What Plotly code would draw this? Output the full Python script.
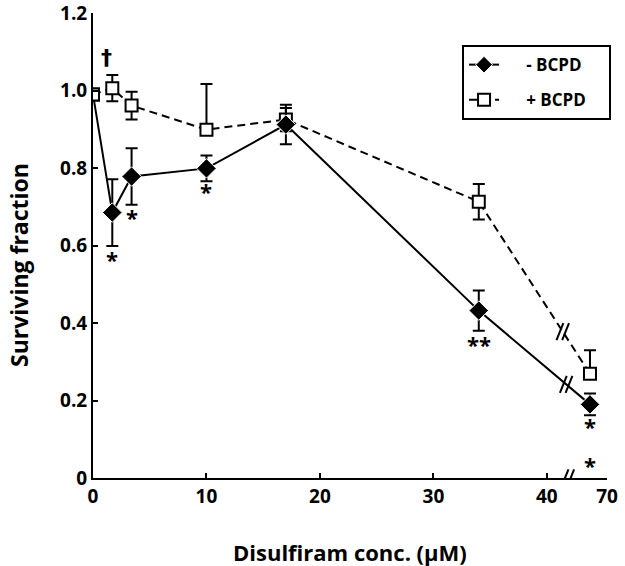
import plotly.graph_objects as go

# ---- data ----
conc_labels = ["0", "1.7", "3.4", "10", "17", "34", "70"]          # µM
x_plot = [0, 1.7, 3.4, 10, 17, 34, 43.8]                            # position on broken axis
minus_bcpd = [0.99, 0.685, 0.778, 0.799, 0.912, 0.432, 0.190]
minus_err = [0.0, 0.086, 0.073, 0.033, 0.051, 0.052, 0.028]
plus_bcpd = [0.99, 1.006, 0.961, 0.899, 0.925, 0.713, 0.269]
plus_err_up = [0.0, 0.034, 0.036, 0.118, 0.03, 0.046, 0.061]
plus_err_down = [0.0, 0.034, 0.036, 0.0, 0.03, 0.046, 0.0]

xtick_vals = [0, 10, 20, 30, 40, 45.3]
xtick_text = ["0", "10", "20", "30", "40", "70"]
ytick_vals = [0, 0.2, 0.4, 0.6, 0.8, 1.0, 1.2]
ytick_text = ["0", "0.2", "0.4", "0.6", "0.8", "1.0", "1.2"]

# significance marks: (x index, y position, text)
marks = [(1, 0.566, "*"), (2, 0.674, "*"), (3, 0.740, "*"), (5, 0.346, "**"),
         (6, 0.134, "*"), (6, 0.033, "*")]
dagger = (1, 1.085, "†")

FONT = "Open Sans"
NB = "\u00a0"

fig = go.Figure()
fig.add_trace(go.Scatter(
    x=x_plot, y=plus_bcpd, name=NB * 5 + "+ BCPD" + NB * 4, mode="lines+markers",
    legendrank=2, legendgroup="p",
    line=dict(color="black", width=2, dash="8px,5px"),
    marker=dict(symbol="square", size=12, color="white", line=dict(color="black", width=2)),
    error_y=dict(type="data", symmetric=False, array=plus_err_up, arrayminus=plus_err_down,
                 color="black", thickness=2, width=6),
))
fig.add_trace(go.Scatter(
    x=x_plot, y=minus_bcpd, name=NB * 5 + "- BCPD" + NB * 4, mode="lines+markers",
    legendrank=1, legendgroup="m",
    line=dict(color="black", width=2),
    marker=dict(symbol="diamond", size=[0, 15, 15, 15, 15, 15, 15], color="black", opacity=1),
    error_y=dict(type="data", array=minus_err, color="black", thickness=2, width=6),
))
# square at 0 on top (same data point, drawn over the diamond as in the original)
fig.add_trace(go.Scatter(
    x=x_plot[:1], y=plus_bcpd[:1], mode="markers", showlegend=False, legendgroup="p",
    marker=dict(symbol="square", size=12, color="white", line=dict(color="black", width=2)),
))

# break marks "//" on axis and on both lines (positions derived from data)
def interp(xa, ya, xb, yb, x):
    return ya + (yb - ya) * (x - xa) / (xb - xa)

def slashes(xc, yc, gap_white=True, ysz=0.022):
    shapes = []
    dx = 0.3
    if gap_white:
        shapes.append(dict(type="line", xref="x", yref="y", x0=xc - 0.22, x1=xc + 0.22,
                           y0=yc, y1=yc, line=dict(color="white", width=4)))
    for off in (-0.25, 0.25):
        shapes.append(dict(type="line", xref="x", yref="y",
                           x0=xc + off - dx, y0=yc - ysz, x1=xc + off + dx, y1=yc + ysz,
                           line=dict(color="black", width=2)))
    return shapes

shapes = []
shapes += slashes(41.85, 0.0)
yb1 = interp(x_plot[5], minus_bcpd[5], x_plot[6], minus_bcpd[6], 41.7)
shapes += slashes(41.7, yb1, gap_white=False)
yb2 = interp(x_plot[5], plus_bcpd[5], x_plot[6], plus_bcpd[6], 41.4)
shapes += slashes(41.4, yb2)

annotations = []
for i, yv, t in marks:
    annotations.append(dict(x=x_plot[i], y=yv, text="<b>" + t + "</b>", showarrow=False,
                            xref="x", yref="y",
                            font=dict(family=FONT, size=22, color="black")))
annotations.append(dict(x=1.15, y=dagger[1], text="<b>" + dagger[2] + "</b>", showarrow=False,
                        xref="x", yref="y",
                        font=dict(family="DejaVu Sans", size=22, color="black")))
annotations.append(dict(x=0.5, y=-0.159, xref="paper", yref="paper", yanchor="middle",
                        text="<b>Disulfiram conc. (μM)</b>", showarrow=False,
                        font=dict(family=FONT, size=22, color="black")))
annotations.append(dict(x=-0.144, y=0.458, xref="paper", yref="paper", textangle=-90,
                        xanchor="center", yanchor="middle",
                        text="<b>Surviving fraction</b>", showarrow=False,
                        font=dict(family=FONT, size=23, color="black")))

fig.update_layout(
    width=625, height=566,
    margin=dict(l=93, r=18, t=13, b=88, autoexpand=False),
    paper_bgcolor="white", plot_bgcolor="white",
    font=dict(family=FONT, size=19, color="black"),
    shapes=shapes, annotations=annotations,
    legend=dict(x=0.718, y=0.931, xanchor="left", yanchor="top",
                bordercolor="black", borderwidth=2, bgcolor="white",
                traceorder="grouped",
                font=dict(family=FONT, size=17, color="black", weight="bold"),
                tracegroupgap=10),
    showlegend=True,
)
fig.update_xaxes(range=[0, 45.3], tickvals=xtick_vals, ticktext=xtick_text,
                 showgrid=False, zeroline=False, showline=True, linecolor="black", linewidth=2,
                 ticks="inside", ticklen=5, tickwidth=2, tickcolor="black",
                 ticklabeloverflow="allow",
                 tickfont=dict(family=FONT, size=19, weight="bold"))
fig.update_yaxes(range=[0, 1.2], tickvals=ytick_vals, ticktext=ytick_text,
                 showgrid=False, zeroline=False, showline=True, linecolor="black", linewidth=2,
                 ticks="inside", ticklen=5, tickwidth=2, tickcolor="black",
                 ticklabeloverflow="allow",
                 tickfont=dict(family=FONT, size=19, weight="bold"))

fig.write_html("out.html")
